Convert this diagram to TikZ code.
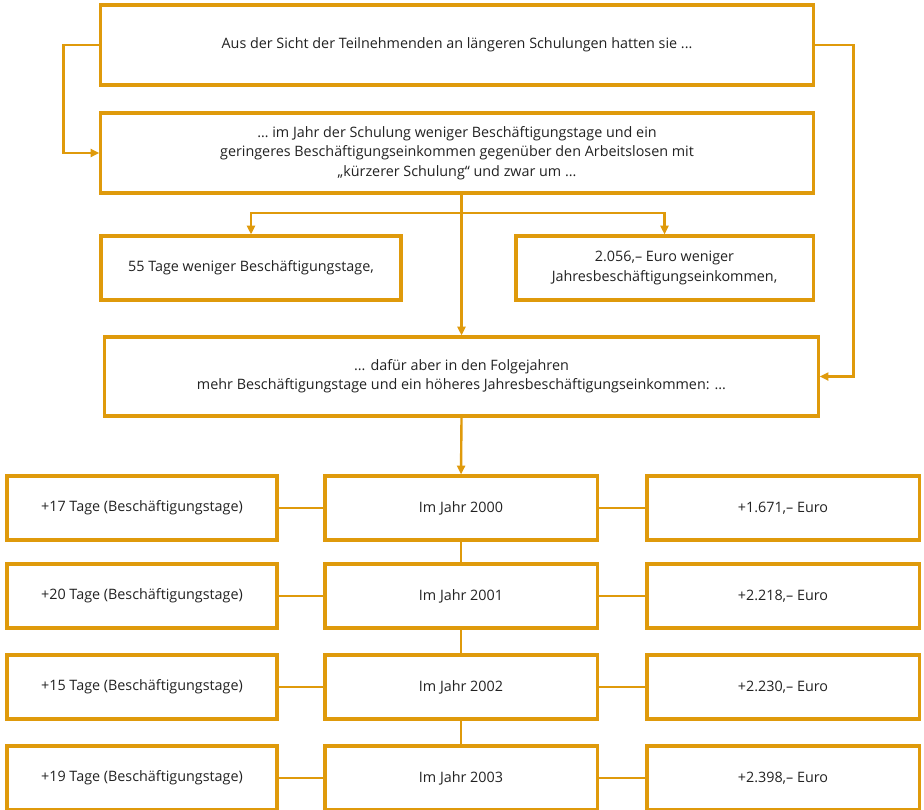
\documentclass[tikz,border=0pt]{standalone}
\usepackage{fontspec}
\setmainfont{Open Sans}
\usepackage{tikz}
\usetikzlibrary{arrows.meta, positioning, calc}
\usepackage{xcolor}
\definecolor{ochre}{HTML}{DF9A0B}
\definecolor{textgrey}{HTML}{222222}
\tikzset{
  box/.style={rectangle, draw=ochre, line width=2.2pt, fill=white,
    minimum width=6.8cm, minimum height=1.6cm, align=center, text=textgrey,
    font=\fontsize{10.2}{13.8}\selectfont, inner sep=2pt},
  boxwide/.style={box, minimum width=17.8cm, minimum height=2cm},
  arrow/.style={-{Triangle[length=2.2mm, width=2mm]}, line width=1.7pt, ochre},
  link/.style={line width=1.7pt, ochre},
}
\begin{document}
\begin{tikzpicture}[x=0.025cm, y=-0.025cm]
\useasboundingbox (0,0) rectangle (924,809);
\clip (0,0) rectangle (924,809);
\node[boxwide] (top) at (457,45) {Aus der Sicht der Teilnehmenden an längeren Schulungen hatten sie ...};
\node[boxwide] (first) at (457,153) {… im Jahr der Schulung weniger Beschäftigungstage und ein\\geringeres Beschäftigungseinkommen gegenüber den Arbeitslosen mit\\„kürzerer Schulung“ und zwar um ...};
\node[box, minimum width=7.5cm] (lessdays) at (251,268) {55 Tage weniger Beschäftigungstage,};
\node[box, minimum width=7.425cm] (lesseuro) at (664.5,268) {2.056,– Euro weniger\\Jahresbeschäftigungseinkommen,};
\node[boxwide, minimum width=17.825cm, minimum height=1.975cm] (later) at (461.5,376.5) {... dafür aber in den Folgejahren\\mehr Beschäftigungstage und ein höheres Jahresbeschäftigungseinkommen: ...};

\node[box] (y0) at (461,508) {Im Jahr 2000};
\node[box] (y1) at (461,596) {Im Jahr 2001};
\node[box] (y2) at (461,687) {Im Jahr 2002};
\node[box] (y3) at (461,778) {Im Jahr 2003};
\node[box, minimum width=6.75cm] (d0) at (142,508) {+17 Tage (Beschäftigungstage)};
\node[box, minimum width=6.75cm] (d1) at (142,596) {+20 Tage (Beschäftigungstage)};
\node[box, minimum width=6.75cm] (d2) at (142,687) {+15 Tage (Beschäftigungstage)};
\node[box, minimum width=6.75cm] (d3) at (142,778) {+19 Tage (Beschäftigungstage)};
\node[box] (e0) at (783,508) {+1.671,– Euro};
\node[box] (e1) at (783,596) {+2.218,– Euro};
\node[box] (e2) at (783,687) {+2.230,– Euro};
\node[box] (e3) at (783,778) {+2.398,– Euro};

\draw[arrow] (top.west) -- ++(-36,0) |- (first.west);
\draw[arrow] (top.east) -- ++(39,0) |- (later.east);
\coordinate (split) at (461,213);
\draw[arrow] (later.north |- first.south) -- (later.north);
\draw[arrow] (split) -| (lessdays.north);
\draw[arrow] (split) -| (lesseuro.north);
\draw[arrow] (later.south) -- (y0.north);
\draw[link] (y0) -- (y1);
\draw[link] (y1) -- (y2);
\draw[link] (y2) -- (y3);
\foreach \i in {0,...,3}{
  \draw[link] (d\i) -- (y\i);
  \draw[link] (y\i) -- (e\i);
}
\end{tikzpicture}
\end{document}
